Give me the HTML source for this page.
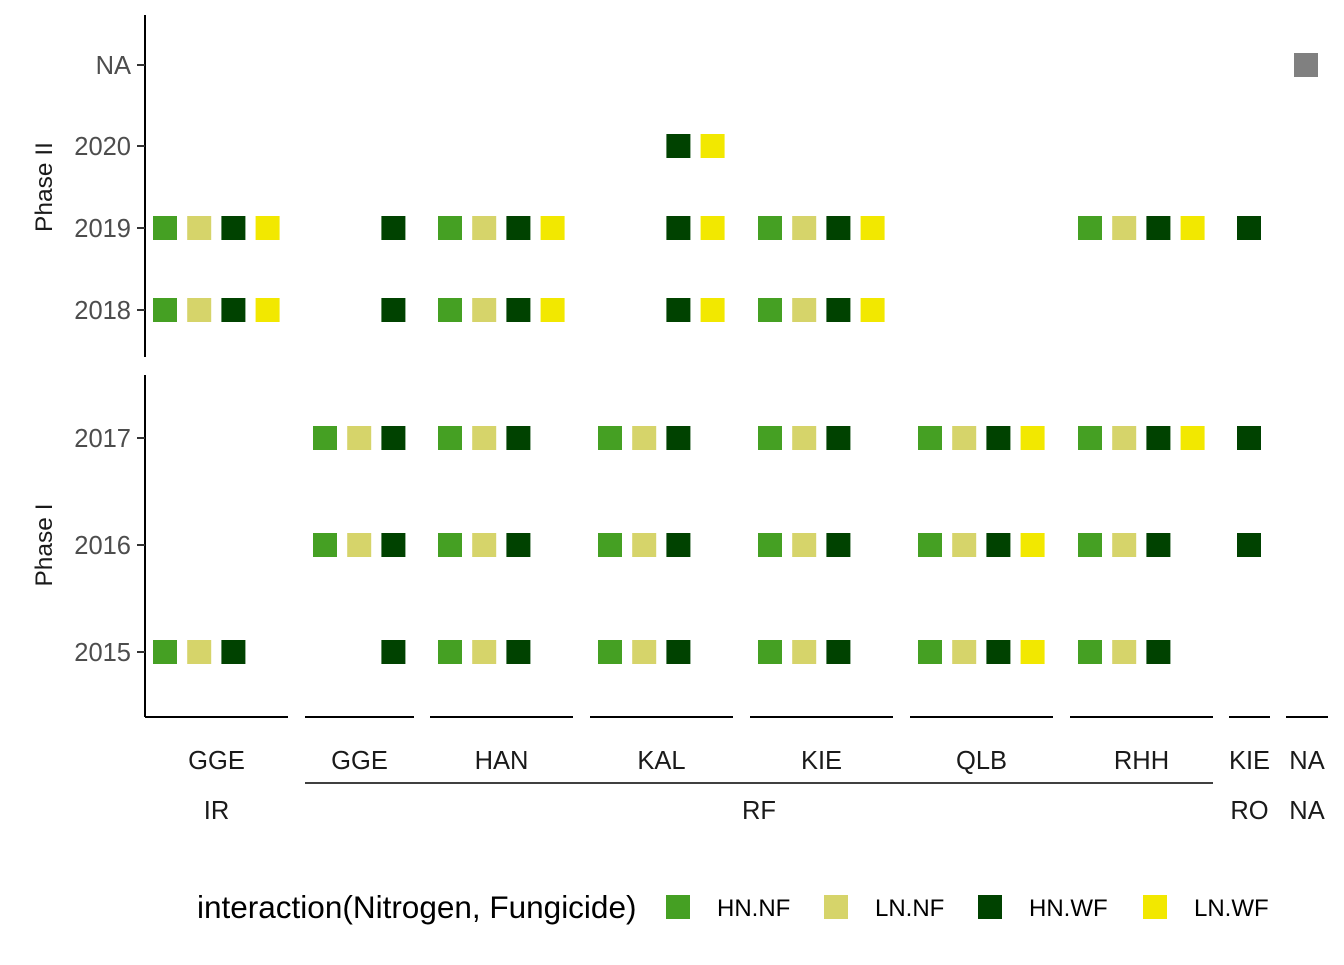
<!DOCTYPE html>
<html><head><meta charset="utf-8"><style>
body{margin:0;background:#fff}
svg text{font-family:"Liberation Sans",sans-serif}
</style></head><body>
<svg id="c" width="1344" height="960" xmlns="http://www.w3.org/2000/svg"></svg>
<script>
const levels=["HN.NF","LN.NF","HN.WF","LN.WF"];
const colors={"HN.NF":"#45a023","LN.NF":"#d6d46a","HN.WF":"#004200","LN.WF":"#f2e800","NA":"#808080"};
const topYears=["NA","2020","2019","2018"];
const botYears=["2017","2016","2015"];
const panels=[
 {site:"GGE",group:"IR",lv:["HN.NF","LN.NF","HN.WF","LN.WF"],left:145,right:288},
 {site:"GGE",group:"RF",lv:["HN.NF","LN.NF","HN.WF"],left:305,right:414},
 {site:"HAN",group:"RF",lv:levels,left:430,right:573},
 {site:"KAL",group:"RF",lv:levels,left:590,right:733},
 {site:"KIE",group:"RF",lv:levels,left:750,right:893},
 {site:"QLB",group:"RF",lv:levels,left:910,right:1053},
 {site:"RHH",group:"RF",lv:levels,left:1070,right:1213},
 {site:"KIE",group:"RO",lv:["HN.WF"],left:1229,right:1270},
 {site:"NA",group:"NA",lv:["NA"],left:1286,right:1328}
];
const obsIRGGE=[["2019",levels],["2018",levels],["2015",["HN.NF","LN.NF","HN.WF"]]];
const obsRFGGE=[["2019",["HN.WF"]],["2018",["HN.WF"]],["2017",["HN.NF","LN.NF","HN.WF"]],["2016",["HN.NF","LN.NF","HN.WF"]],["2015",["HN.WF"]]];
const obsHAN=[["2019",levels],["2018",levels],["2017",["HN.NF","LN.NF","HN.WF"]],["2016",["HN.NF","LN.NF","HN.WF"]],["2015",["HN.NF","LN.NF","HN.WF"]]];
const obsKAL=[["2020",["HN.WF","LN.WF"]],["2019",["HN.WF","LN.WF"]],["2018",["HN.WF","LN.WF"]],["2017",["HN.NF","LN.NF","HN.WF"]],["2016",["HN.NF","LN.NF","HN.WF"]],["2015",["HN.NF","LN.NF","HN.WF"]]];
const obsKIE=[["2019",levels],["2018",levels],["2017",["HN.NF","LN.NF","HN.WF"]],["2016",["HN.NF","LN.NF","HN.WF"]],["2015",["HN.NF","LN.NF","HN.WF"]]];
const obsQLB=[["2017",levels],["2016",levels],["2015",levels]];
const obsRHH=[["2019",levels],["2017",levels],["2016",["HN.NF","LN.NF","HN.WF"]],["2015",["HN.NF","LN.NF","HN.WF"]]];
const obsKIERO=[["2019",["HN.WF"]],["2017",["HN.WF"]],["2016",["HN.WF"]]];
const obsNA=[["NA",["NA"]]];
const obs=[obsIRGGE,obsRFGGE,obsHAN,obsKAL,obsKIE,obsQLB,obsRHH,obsKIERO,obsNA];

const svg=document.getElementById('c');const NS="http://www.w3.org/2000/svg";
function el(t,a,txt){const e=document.createElementNS(NS,t);for(const k in a)e.setAttribute(k,a[k]);if(txt!=null)e.textContent=txt;svg.appendChild(e);return e;}
const topPos={"NA":65,"2020":146,"2019":228,"2018":310};
const botPos={"2017":438,"2016":545,"2015":652};
function yOf(y){return topPos[y]!==undefined?topPos[y]:botPos[y];}
function xOf(p,l){const i=p.lv.indexOf(l);return p.left+20+i*34.2;}
let a=el('line',{x1:145,y1:15,x2:145,y2:357,stroke:'#000','stroke-width':2});
a=el('line',{x1:145,y1:375,x2:145,y2:717,stroke:'#000','stroke-width':2});
[...topYears,...botYears].forEach(y=>{const yy=yOf(y);
 let t=el('line',{x1:137,y1:yy,x2:145,y2:yy,stroke:'#333','stroke-width':2});
 t=el('text',{x:131,y:yy+9,'text-anchor':'end','font-size':25.5,fill:'#4d4d4d'},y);});
let ph=el('text',{transform:'translate(52,187) rotate(-90)','text-anchor':'middle','font-size':24.5,fill:'#1a1a1a'},'Phase II');
ph=el('text',{transform:'translate(52,545) rotate(-90)','text-anchor':'middle','font-size':24.5,fill:'#1a1a1a'},'Phase I');
panels.forEach((p,pi)=>{
 let l=el('line',{x1:p.left,y1:717,x2:p.right,y2:717,stroke:'#000','stroke-width':2});
 let t=el('text',{x:(p.left+p.right)/2,y:769,'text-anchor':'middle','font-size':25.5,fill:'#1a1a1a'},p.site);
 obs[pi].forEach(([y,ls])=>ls.forEach(lv=>{
  const r=el('rect',{x:xOf(p,lv)-12,y:yOf(y)-12,width:24,height:24,fill:colors[lv]});
  }));
});
const groups=[["IR",145,288],["RF",305,1213],["RO",1229,1270],["NA",1286,1328]];
groups.forEach(g=>{let t=el('text',{x:(g[1]+g[2])/2,y:819,'text-anchor':'middle','font-size':25.5,fill:'#1a1a1a'},g[0]);});
let gl=el('line',{x1:305,y1:783,x2:1213,y2:783,stroke:'#000','stroke-width':1.5});
let lt=el('text',{x:197,y:918,'font-size':31.5,fill:'#000'},'interaction(Nitrogen, Fungicide)');
const lx=[678,836,990,1155];
levels.forEach((lv,i)=>{let r=el('rect',{x:lx[i]-12,y:895,width:24,height:24,fill:colors[lv]});
 let t=el('text',{x:lx[i]+39,y:916,'font-size':24,fill:'#000'},lv);});
</script>
</body></html>
